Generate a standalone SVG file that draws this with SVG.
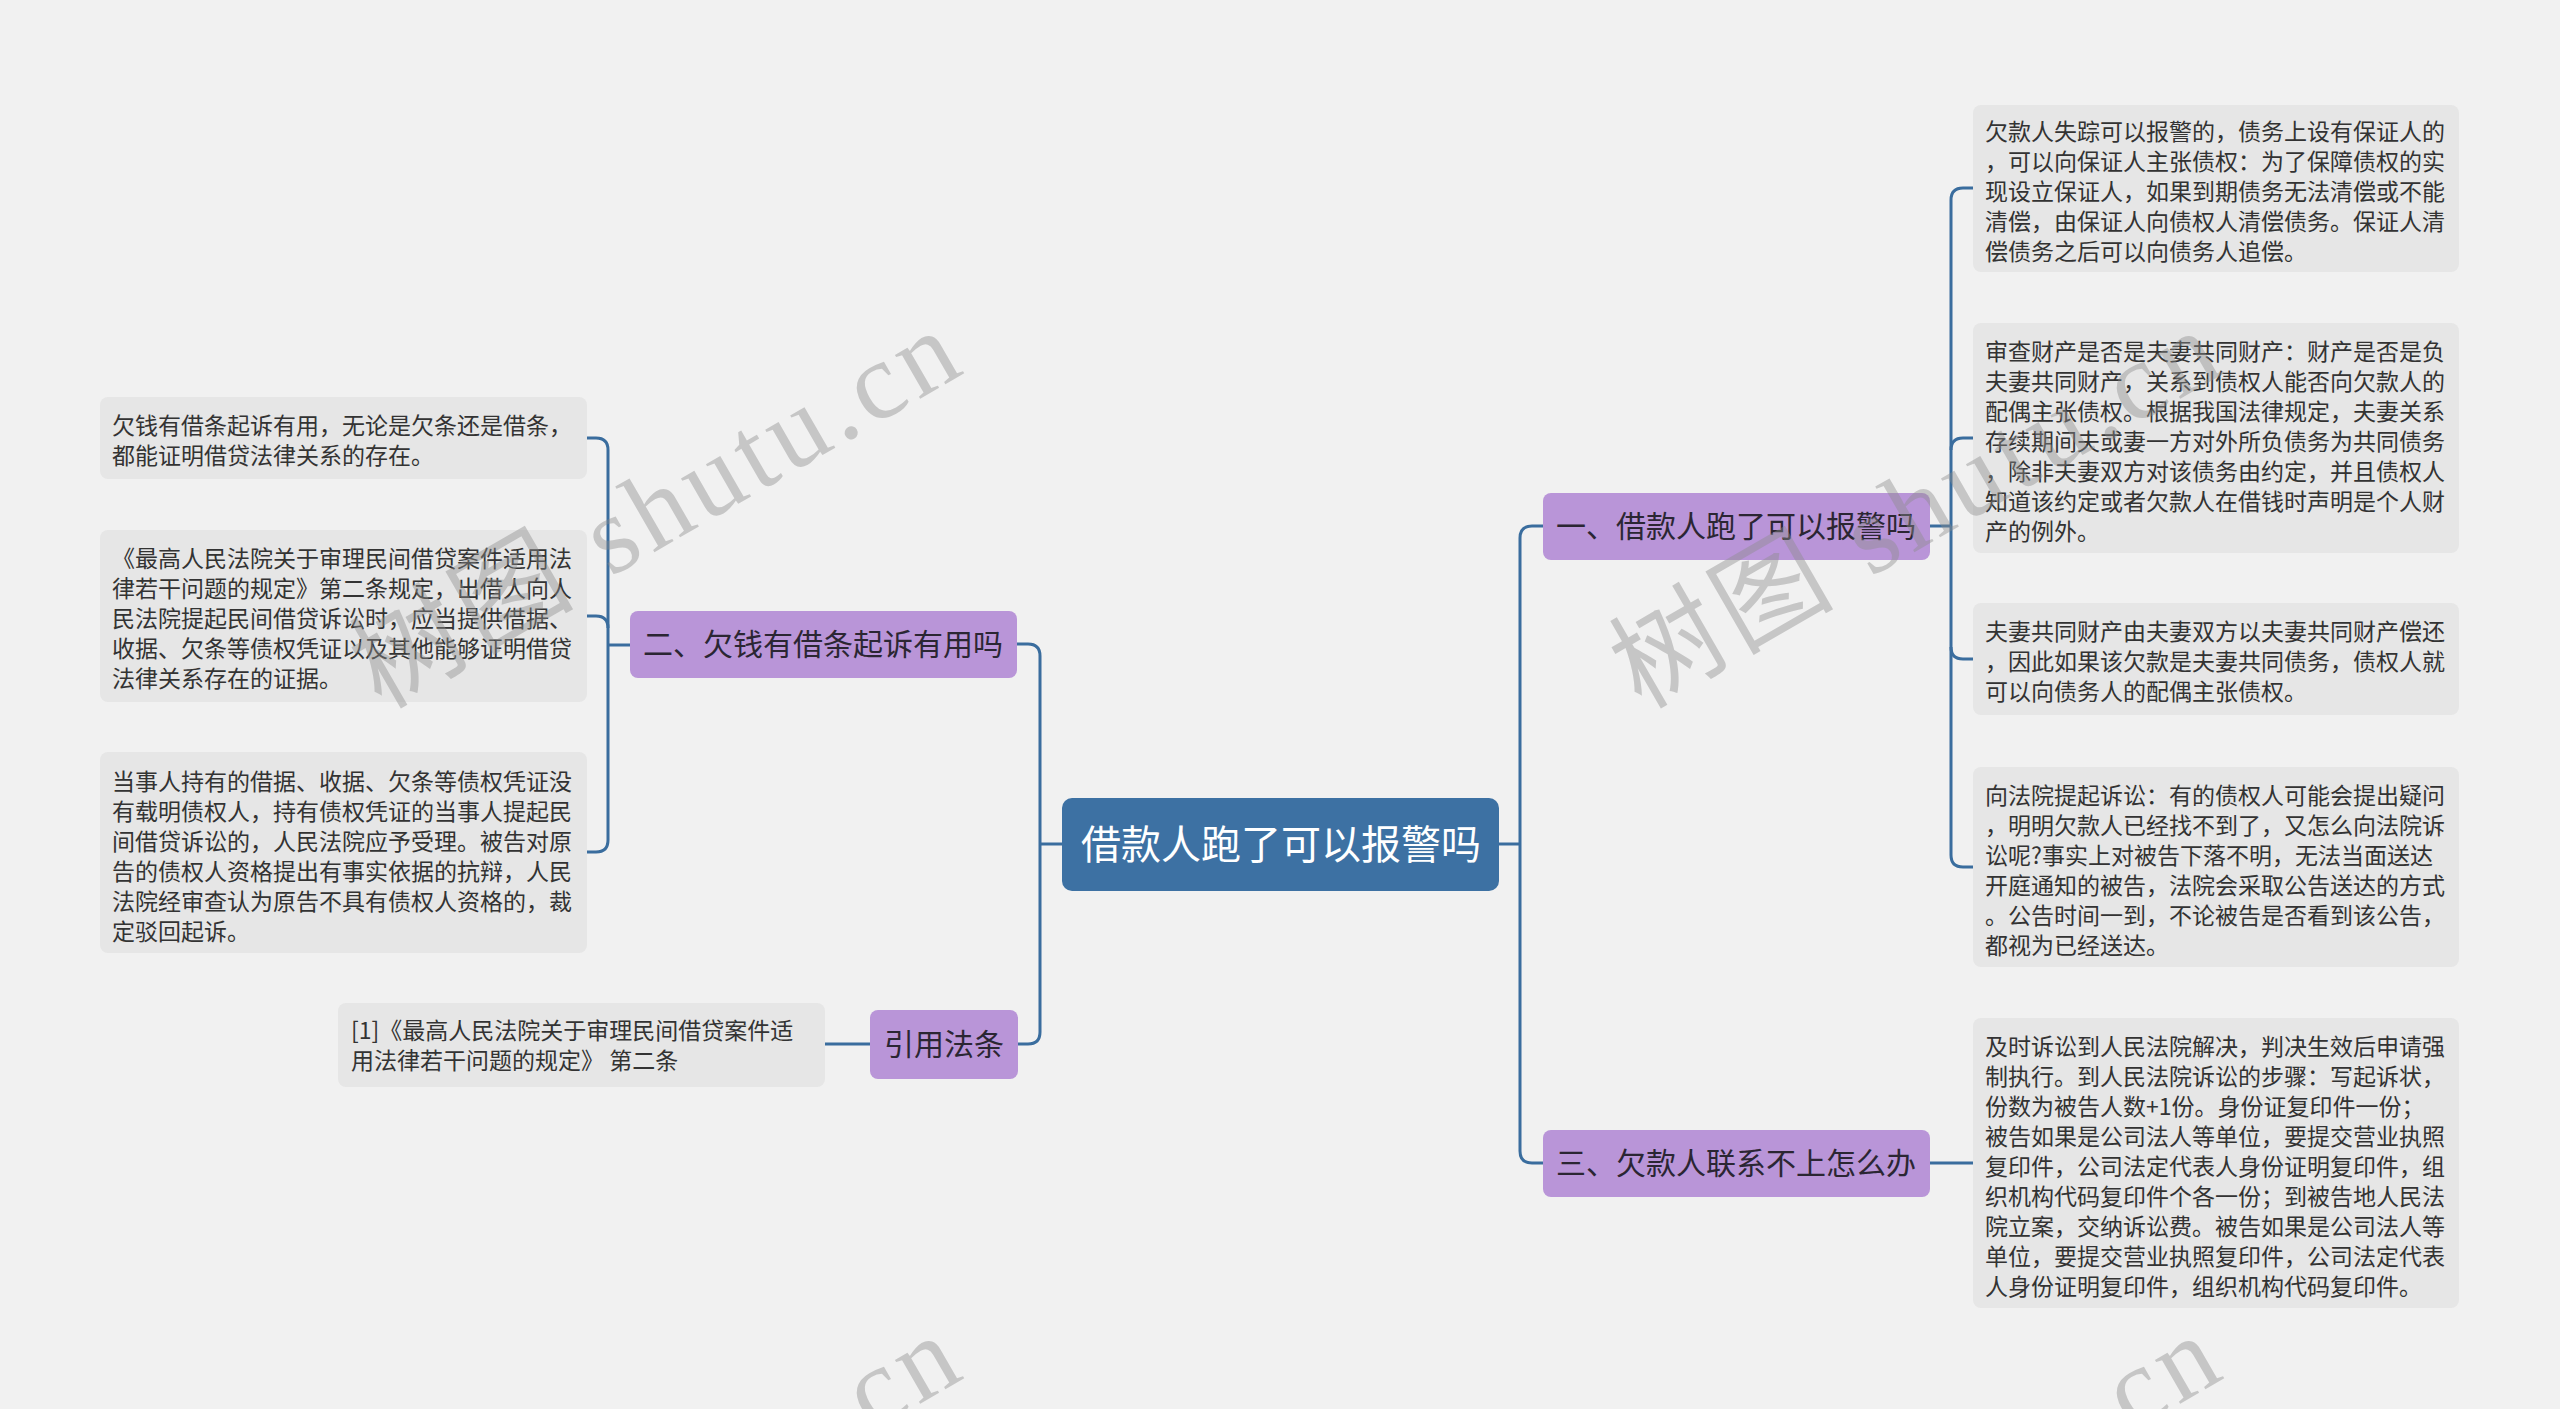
<svg xmlns="http://www.w3.org/2000/svg" width="2560" height="1409" viewBox="0 0 2560 1409">
<style>
.bg{fill:#f1f1f1}
.root{fill:#3d71a3}
.br{fill:#b995d8}
.leaf{fill:#e6e6e6}
.rt{font-family:"Noto Sans CJK SC","Noto Sans",sans-serif;font-size:40px;fill:#ffffff;text-anchor:middle}
.bt{font-family:"Noto Sans CJK SC","Noto Sans",sans-serif;font-size:30px;fill:#2b2633;text-anchor:middle}
.lt{font-family:"Noto Sans CJK SC","Noto Sans",sans-serif;font-size:23px;fill:#333333}
.con{fill:none;stroke:#3a6d9e;stroke-width:3}
.wm{font-family:"Liberation Serif","Noto Sans CJK SC",serif;font-size:110px;fill:#8c8c8c;opacity:0.42}
</style>
<rect class="bg" x="0" y="0" width="2560" height="1409"/>

<g id="connectors">
<path class="con" d="M1499,844 H1520"/>
<path class="con" d="M1543,526 H1532 Q1520,526 1520,538 V1151 Q1520,1163 1532,1163 H1543"/>
<path class="con" d="M1062,844 H1040"/>
<path class="con" d="M1017,644 H1028 Q1040,644 1040,656 V1032 Q1040,1044 1028,1044 H1018"/>
<path class="con" d="M1930,526 H1951"/>
<path class="con" d="M1973,188 H1963 Q1951,188 1951,200 V855 Q1951,867 1963,867 H1973"/>
<path class="con" d="M1951,450 Q1951,438 1963,438 H1973"/>
<path class="con" d="M1951,647 Q1951,659 1963,659 H1973"/>
<path class="con" d="M1930,1163 H1973"/>
<path class="con" d="M630,645 H608"/>
<path class="con" d="M587,438 H596 Q608,438 608,450 V840 Q608,852 596,852 H587"/>
<path class="con" d="M608,628 Q608,616 596,616 H587"/>
<path class="con" d="M870,1044 H825"/>
</g>

<g id="root">
<rect class="root" x="1062" y="798" width="437" height="93" rx="10"/>
<text class="rt" x="1281" y="859">借款人跑了可以报警吗</text>
</g>

<g id="b1">
<rect class="br" x="1543" y="493" width="387" height="67" rx="8"/>
<text class="bt" x="1736" y="537">一、借款人跑了可以报警吗</text>
</g>
<g id="b2">
<rect class="br" x="630" y="611" width="387" height="67" rx="8"/>
<text class="bt" x="823" y="655">二、欠钱有借条起诉有用吗</text>
</g>
<g id="b3">
<rect class="br" x="1543" y="1130" width="387" height="67" rx="8"/>
<text class="bt" x="1736" y="1174">三、欠款人联系不上怎么办</text>
</g>
<g id="b4">
<rect class="br" x="870" y="1010" width="148" height="69" rx="8"/>
<text class="bt" x="944" y="1055">引用法条</text>
</g>

<g id="r1">
<rect class="leaf" x="1973" y="105" width="486" height="167" rx="8"/>
<text class="lt" x="1985" y="140">欠款人失踪可以报警的，债务上设有保证人的</text>
<text class="lt" x="1985" y="170">，可以向保证人主张债权：为了保障债权的实</text>
<text class="lt" x="1985" y="200">现设立保证人，如果到期债务无法清偿或不能</text>
<text class="lt" x="1985" y="230">清偿，由保证人向债权人清偿债务。保证人清</text>
<text class="lt" x="1985" y="260">偿债务之后可以向债务人追偿。</text>
</g>
<g id="r2">
<rect class="leaf" x="1973" y="323" width="486" height="230" rx="8"/>
<text class="lt" x="1985" y="360">审查财产是否是夫妻共同财产：财产是否是负</text>
<text class="lt" x="1985" y="390">夫妻共同财产，关系到债权人能否向欠款人的</text>
<text class="lt" x="1985" y="420">配偶主张债权。根据我国法律规定，夫妻关系</text>
<text class="lt" x="1985" y="450">存续期间夫或妻一方对外所负债务为共同债务</text>
<text class="lt" x="1985" y="480">，除非夫妻双方对该债务由约定，并且债权人</text>
<text class="lt" x="1985" y="510">知道该约定或者欠款人在借钱时声明是个人财</text>
<text class="lt" x="1985" y="540">产的例外。</text>
</g>
<g id="r3">
<rect class="leaf" x="1973" y="603" width="486" height="112" rx="8"/>
<text class="lt" x="1985" y="640">夫妻共同财产由夫妻双方以夫妻共同财产偿还</text>
<text class="lt" x="1985" y="670">，因此如果该欠款是夫妻共同债务，债权人就</text>
<text class="lt" x="1985" y="700">可以向债务人的配偶主张债权。</text>
</g>
<g id="r4">
<rect class="leaf" x="1973" y="767" width="486" height="200" rx="8"/>
<text class="lt" x="1985" y="804">向法院提起诉讼：有的债权人可能会提出疑问</text>
<text class="lt" x="1985" y="834">，明明欠款人已经找不到了，又怎么向法院诉</text>
<text class="lt" x="1985" y="864">讼呢?事实上对被告下落不明，无法当面送达</text>
<text class="lt" x="1985" y="894">开庭通知的被告，法院会采取公告送达的方式</text>
<text class="lt" x="1985" y="924">。公告时间一到，不论被告是否看到该公告，</text>
<text class="lt" x="1985" y="954">都视为已经送达。</text>
</g>
<g id="r5">
<rect class="leaf" x="1973" y="1018" width="486" height="290" rx="8"/>
<text class="lt" x="1985" y="1055">及时诉讼到人民法院解决，判决生效后申请强</text>
<text class="lt" x="1985" y="1085">制执行。到人民法院诉讼的步骤：写起诉状，</text>
<text class="lt" x="1985" y="1115">份数为被告人数+1份。身份证复印件一份；</text>
<text class="lt" x="1985" y="1145">被告如果是公司法人等单位，要提交营业执照</text>
<text class="lt" x="1985" y="1175">复印件，公司法定代表人身份证明复印件，组</text>
<text class="lt" x="1985" y="1205">织机构代码复印件个各一份；到被告地人民法</text>
<text class="lt" x="1985" y="1235">院立案，交纳诉讼费。被告如果是公司法人等</text>
<text class="lt" x="1985" y="1265">单位，要提交营业执照复印件，公司法定代表</text>
<text class="lt" x="1985" y="1295">人身份证明复印件，组织机构代码复印件。</text>
</g>

<g id="l1">
<rect class="leaf" x="100" y="397" width="487" height="82" rx="8"/>
<text class="lt" x="112" y="434">欠钱有借条起诉有用，无论是欠条还是借条，</text>
<text class="lt" x="112" y="464">都能证明借贷法律关系的存在。</text>
</g>
<g id="l2">
<rect class="leaf" x="100" y="530" width="487" height="172" rx="8"/>
<text class="lt" x="112" y="567">《最高人民法院关于审理民间借贷案件适用法</text>
<text class="lt" x="112" y="597">律若干问题的规定》第二条规定，出借人向人</text>
<text class="lt" x="112" y="627">民法院提起民间借贷诉讼时，应当提供借据、</text>
<text class="lt" x="112" y="657">收据、欠条等债权凭证以及其他能够证明借贷</text>
<text class="lt" x="112" y="687">法律关系存在的证据。</text>
</g>
<g id="l3">
<rect class="leaf" x="100" y="752" width="487" height="201" rx="8"/>
<text class="lt" x="112" y="790">当事人持有的借据、收据、欠条等债权凭证没</text>
<text class="lt" x="112" y="820">有载明债权人，持有债权凭证的当事人提起民</text>
<text class="lt" x="112" y="850">间借贷诉讼的，人民法院应予受理。被告对原</text>
<text class="lt" x="112" y="880">告的债权人资格提出有事实依据的抗辩，人民</text>
<text class="lt" x="112" y="910">法院经审查认为原告不具有债权人资格的，裁</text>
<text class="lt" x="112" y="940">定驳回起诉。</text>
</g>
<g id="l4">
<rect class="leaf" x="338" y="1003" width="487" height="84" rx="8"/>
<text class="lt" x="351" y="1039">[1]《最高人民法院关于审理民间借贷案件适</text>
<text class="lt" x="351" y="1069">用法律若干问题的规定》 第二条</text>
</g>

<g id="watermarks">
<text class="wm" transform="translate(381,710) rotate(-30)" textLength="675" lengthAdjust="spacing">树图 shutu.cn</text>
<text class="wm" transform="translate(1641,710) rotate(-30)" textLength="675" lengthAdjust="spacing">树图 shutu.cn</text>
<text class="wm" transform="translate(381,1715) rotate(-30)" textLength="675" lengthAdjust="spacing">树图 shutu.cn</text>
<text class="wm" transform="translate(1641,1715) rotate(-30)" textLength="675" lengthAdjust="spacing">树图 shutu.cn</text>
</g>
</svg>
